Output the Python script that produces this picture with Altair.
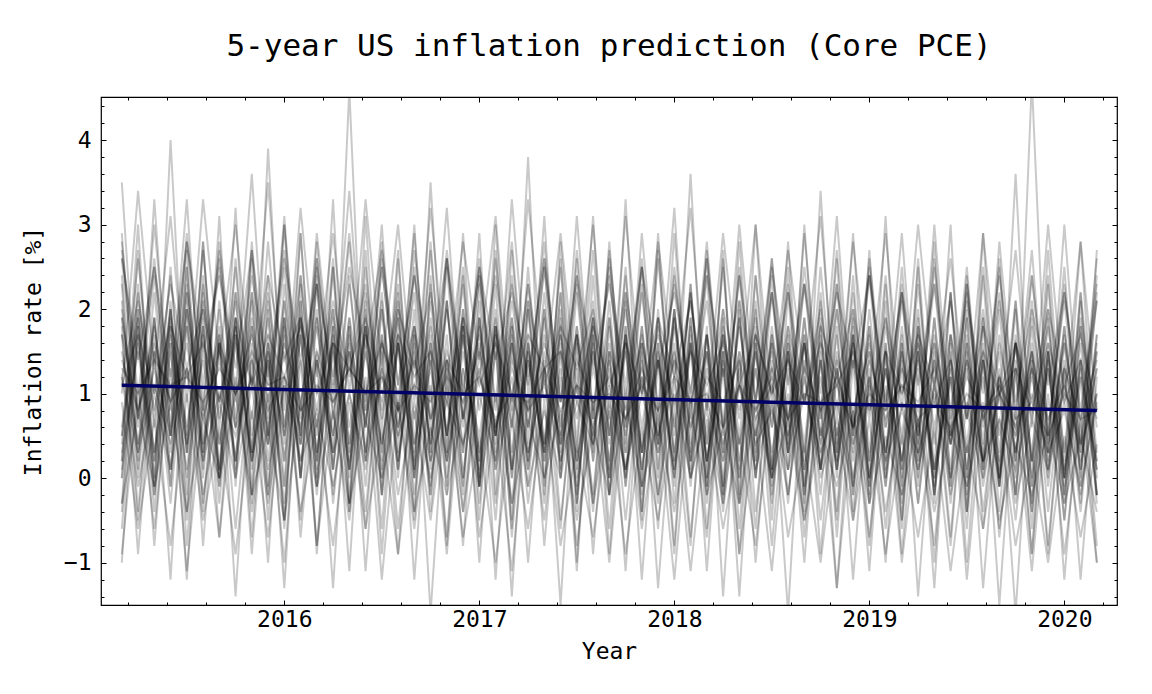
import altair as alt
import pandas as pd

TITLE = "5-year US inflation prediction (Core PCE)"
X_TITLE = "Year"
Y_TITLE = "Inflation rate [%]"

# monthly forecast dates, March 2015 .. March 2020
MONTHS = pd.date_range("2015-03-01", periods=61, freq="MS")

# mean forecast (straight line from first to last month)
MEAN_VALUES = [1.1, 0.8]

YEAR_TICKS = [2016, 2017, 2018, 2019, 2020]
RATE_TICKS = [-1, 0, 1, 2, 3, 4]

# simulated inflation paths, one list per path (61 monthly values)
PATHS = [
    [1.9, 0.3, 1.7, 0.1, 2.0, 0.4, 1.6, 0.2, 1.8, 0.5, 1.9, 0.0, 1.5, 0.3, 1.7, 0.6,
     2.1, 0.2, 1.6, -0.1, 1.4, 0.3, 1.8, 0.5, 1.9, 0.1, 1.5, 0.4, 1.7, 0.2, 1.3,
     0.0, 1.6, 0.4, 1.8, 0.3, 1.5, -0.2, 1.4, 0.2, 1.7, 0.5, 1.6, 0.1, 1.3, 0.3,
     1.8, 0.0, 1.5, 0.2, 1.4, 0.4, 1.6, -0.1, 1.2, 0.3, 1.5, 0.1, 1.7, 0.2, 1.3],
    [0.6, 2.0, 0.8, 1.9, 0.5, 2.1, 0.9, 1.8, 0.7, 2.2, 0.6, 1.9, 0.8, 2.0, 0.4, 1.7,
     0.9, 2.1, 0.7, 1.8, 0.5, 2.0, 0.8, 1.9, 0.6, 2.3, 0.9, 1.7, 0.7, 1.9, 0.5,
     2.0, 0.6, 1.8, 0.8, 2.1, 0.4, 1.7, 0.7, 1.9, 0.6, 1.8, 0.9, 2.0, 0.5, 1.6,
     0.7, 1.9, 0.4, 1.8, 0.6, 1.7, 0.8, 2.0, 0.5, 1.6, 0.7, 1.8, 0.3, 1.9, 0.6],
    [2.3, -0.4, 1.9, -0.1, 2.5, -0.3, 1.6, 0.2, 2.2, -0.5, 1.8, 0.0, 2.4, -0.2, 1.5, -0.6,
     1.7, 0.1, 2.0, -0.4, 1.4, -0.1, 2.1, -0.3, 1.6, 0.2, 1.9, -0.5, 1.3, -0.2, 1.8,
     -0.1, 1.5, -0.6, 1.9, 0.0, 1.7, -0.3, 2.0, -0.4, 1.4, 0.1, 1.6, -0.2, 1.8, -0.5,
     1.2, -0.1, 1.7, -0.3, 1.5, 0.0, 1.9, -0.6, 1.3, -0.2, 1.6, -0.4, 1.4, 0.1, 1.7],
    [1.2, 2.1, 1.0, 2.3, 1.3, 2.0, 0.9, 2.2, 1.1, 2.4, 1.4, 1.9, 1.0, 2.1, 1.2, 2.3,
     0.8, 2.0, 1.3, 2.2, 1.0, 1.9, 1.2, 2.4, 0.9, 2.1, 1.1, 1.8, 1.3, 2.0, 0.9,
     2.2, 1.0, 1.9, 1.2, 2.1, 0.8, 2.0, 1.1, 1.7, 1.0, 2.2, 0.9, 1.8, 1.2, 2.0,
     0.8, 1.9, 1.0, 1.7, 1.1, 2.1, 0.7, 1.8, 1.0, 1.6, 0.9, 2.0, 1.1, 1.7, 0.8],
    [3.5, 0.6, 3.0, 0.9, 3.3, 0.4, 2.8, 1.0, 3.6, 0.7, 3.1, 0.5, 2.9, 1.1, 3.4, 0.8,
     3.0, 0.3, 2.7, 0.9, 3.2, 0.6, 2.6, 0.4, 3.3, 1.0, 2.8, 0.5, 3.1, 0.7, 2.5,
     0.4, 2.9, 0.8, 3.2, 0.2, 2.7, 0.6, 3.0, 0.9, 2.6, 0.3, 2.9, 0.7, 3.1, 0.5,
     2.6, 0.8, 2.9, 0.4, 3.0, 0.6, 2.5, 0.2, 2.8, 0.7, 2.7, 0.3, 3.0, 0.5, 2.6],
    [-0.9, 1.1, -0.6, 1.3, -1.1, 0.9, -0.7, 1.2, -0.4, 1.0, -1.0, 1.4, -0.8, 0.8, -0.5, 1.2,
     -1.2, 0.9, -0.6, 1.1, -0.9, 1.3, -0.7, 0.7, -1.1, 1.0, -0.5, 1.2, -0.8, 0.9, -1.0,
     1.1, -0.6, 0.8, -1.2, 1.0, -0.7, 1.3, -0.9, 0.6, -1.1, 1.0, -0.5, 0.9, -1.3, 0.8,
     -0.7, 1.1, -1.0, 0.7, -0.8, 1.2, -1.2, 0.9, -0.6, 0.8, -1.1, 1.0, -0.9, 0.7, -1.0],
    [1.4, 0.8, 1.5, 0.9, 1.3, 0.7, 1.6, 1.0, 1.4, 0.8, 1.2, 0.6, 1.5, 0.9, 1.3, 1.0,
     1.6, 0.8, 1.4, 0.7, 1.2, 0.9, 1.5, 0.6, 1.3, 0.8, 1.1, 0.5, 1.4, 0.9, 1.2,
     0.7, 1.3, 0.8, 1.5, 0.6, 1.2, 0.9, 1.4, 0.7, 1.1, 0.5, 1.3, 0.8, 1.2, 0.6,
     1.4, 0.7, 1.1, 0.9, 1.3, 0.5, 1.2, 0.8, 1.0, 0.6, 1.3, 0.7, 1.1, 0.4, 1.0],
    [0.1, 1.6, 0.3, 1.8, 0.0, 1.5, 0.4, 1.7, 0.2, 1.4, -0.1, 1.9, 0.3, 1.6, 0.1, 1.5,
     0.4, 1.7, 0.0, 1.6, 0.2, 1.3, 0.5, 1.8, 0.1, 1.4, 0.3, 1.6, -0.2, 1.5, 0.2,
     1.7, 0.3, 1.4, 0.0, 1.6, 0.2, 1.5, 0.4, 1.3, -0.1, 1.6, 0.1, 1.4, 0.3, 1.7,
     0.0, 1.3, 0.2, 1.5, -0.1, 1.4, 0.3, 1.2, 0.0, 1.6, 0.2, 1.3, -0.2, 1.4, 0.1],
    [2.6, 0.7, 2.4, 0.5, 2.3, 0.8, 2.7, 0.6, 2.2, 0.9, 2.5, 0.4, 2.8, 0.7, 2.3, 0.6,
     2.5, 0.8, 2.2, 0.3, 2.6, 0.7, 2.4, 0.5, 2.1, 0.8, 2.5, 0.6, 2.3, 0.4, 2.7,
     0.6, 2.2, 0.5, 2.4, 0.8, 2.1, 0.3, 2.5, 0.6, 2.2, 0.4, 2.3, 0.7, 2.0, 0.5,
     2.4, 0.3, 2.1, 0.6, 2.3, 0.4, 2.0, 0.7, 2.2, 0.2, 1.9, 0.5, 2.3, 0.4, 2.1],
    [1.2, -0.1, 1.0, 0.1, 1.3, -0.2, 0.9, 0.0, 1.1, -0.3, 1.2, 0.2, 0.8, -0.1, 1.0, 0.1,
     1.3, -0.2, 0.9, 0.0, 1.1, -0.4, 1.0, 0.2, 1.2, -0.1, 0.8, 0.0, 1.1, -0.3, 0.9,
     0.1, 1.2, -0.2, 1.0, 0.0, 0.8, -0.3, 1.1, 0.1, 0.9, -0.2, 1.2, 0.0, 0.7, -0.1,
     1.0, -0.4, 0.9, 0.1, 1.1, -0.2, 0.8, 0.0, 1.0, -0.3, 0.7, 0.1, 0.9, -0.2, 1.0],
    [0.2, 3.0, -0.1, 4.0, 0.3, 2.8, 0.0, 3.2, -0.2, 3.9, 0.4, 2.9, 0.1, 3.3, -0.3, 3.1,
     0.2, 2.7, 0.0, 3.5, 0.3, 2.9, -0.1, 3.0, 0.1, 3.8, -0.2, 2.8, 0.4, 3.1, 0.0,
     3.3, -0.1, 2.9, 0.2, 3.6, 0.0, 2.7, -0.3, 3.0, 0.1, 2.8, -0.1, 3.4, 0.2, 2.9,
     0.0, 3.1, -0.2, 2.6, 0.1, 3.0, -0.4, 2.9, 0.0, 3.6, -0.1, 2.7, 0.2, 2.8, 0.0],
    [1.7, 0.8, 1.6, 0.9, 1.8, 0.7, 1.5, 1.0, 1.7, 0.6, 1.6, 0.9, 1.9, 0.8, 1.5, 0.7,
     1.6, 1.0, 1.8, 0.7, 1.5, 0.9, 1.7, 0.6, 1.4, 0.8, 1.6, 0.9, 1.7, 0.5, 1.5,
     0.8, 1.6, 0.7, 1.4, 0.9, 1.7, 0.6, 1.5, 0.8, 1.3, 0.7, 1.6, 0.5, 1.4, 0.8,
     1.5, 0.6, 1.3, 0.8, 1.6, 0.5, 1.4, 0.7, 1.2, 0.6, 1.5, 0.4, 1.3, 0.7, 1.4],
    [-0.4, 2.0, -0.2, 1.8, -0.5, 2.2, 0.0, 1.9, -0.3, 1.7, -0.6, 2.1, -0.1, 1.8, -0.4, 2.0,
     -0.2, 1.6, -0.5, 2.3, 0.0, 1.9, -0.3, 1.7, -0.6, 2.0, -0.1, 1.8, -0.4, 2.1, -0.2,
     1.7, -0.5, 1.9, -0.3, 1.6, -0.1, 2.0, -0.6, 1.8, -0.2, 1.5, -0.4, 1.9, -0.7, 1.7,
     -0.3, 1.6, -0.5, 1.8, -0.2, 1.5, -0.6, 1.9, -0.4, 1.7, -0.1, 1.4, -0.5, 1.8, -0.3],
    [2.6, 1.4, 2.5, 1.2, 2.8, 1.5, 2.4, 1.3, 2.7, 1.1, 2.6, 1.4, 2.3, 1.2, 2.5, 1.5,
     2.7, 1.1, 2.4, 1.3, 2.6, 1.0, 2.5, 1.4, 2.2, 1.2, 2.6, 0.9, 2.4, 1.3, 2.3,
     1.1, 2.5, 1.3, 2.2, 1.0, 2.4, 1.2, 2.1, 0.9, 2.5, 1.1, 2.3, 1.0, 2.2, 1.3,
     2.4, 0.9, 2.2, 1.1, 2.3, 0.8, 2.1, 1.0, 2.4, 0.9, 2.0, 1.1, 2.2, 0.8, 2.1],
    [-0.3, 0.8, -0.1, 0.9, -0.4, 0.7, 0.0, 1.0, -0.2, 0.6, -0.5, 0.9, -0.1, 0.8, -0.3, 0.7,
     0.0, 0.9, -0.4, 0.6, -0.2, 0.8, -0.1, 1.0, -0.3, 0.7, 0.0, 0.8, -0.5, 0.6, -0.2,
     0.9, -0.1, 0.7, -0.4, 0.8, -0.2, 0.6, -0.3, 0.9, 0.0, 0.7, -0.5, 0.6, -0.1, 0.8,
     -0.3, 0.5, -0.2, 0.7, -0.4, 0.6, -0.1, 0.8, -0.5, 0.4, -0.2, 0.6, -0.3, 0.5, -0.4],
    [1.3, 1.0, 1.4, 1.1, 1.2, 0.9, 1.3, 1.0, 1.5, 1.1, 1.2, 0.8, 1.1, 0.9, 1.3, 1.0,
     1.2, 0.8, 1.1, 0.9, 1.4, 1.0, 1.2, 0.7, 1.0, 0.9, 1.3, 0.8, 1.1, 0.9, 1.0,
     0.7, 1.1, 0.8, 1.2, 0.9, 1.0, 0.6, 1.1, 0.8, 1.2, 0.7, 1.0, 0.9, 1.1, 0.6,
     1.0, 0.8, 1.1, 0.7, 0.9, 0.6, 1.0, 0.8, 1.1, 0.7, 0.9, 0.5, 1.0, 0.7, 0.8],
    [1.8, -0.9, 1.5, -1.2, 2.0, -0.8, 1.7, -1.4, 1.6, -1.0, 1.9, -0.7, 1.4, -1.3, 1.8, -1.1,
     1.5, -0.9, 1.7, -1.6, 1.3, -0.8, 1.9, -1.2, 1.6, -1.0, 1.4, -1.5, 1.7, -0.9, 1.5,
     -1.1, 1.6, -1.3, 1.2, -0.8, 1.8, -1.4, 1.5, -1.0, 1.3, -1.6, 1.7, -0.9, 1.4, -1.2,
     1.3, -1.0, 1.6, -1.4, 1.2, -0.8, 1.5, -1.3, 1.1, -1.6, 1.4, -0.9, 1.3, -1.2, 1.2],
    [0.4, 2.2, 0.6, 2.0, 0.3, 2.3, 0.7, 2.1, 0.5, 1.9, 0.2, 2.4, 0.6, 2.0, 0.4, 2.2,
     0.7, 1.9, 0.3, 2.1, 0.5, 2.3, 0.2, 1.8, 0.6, 2.0, 0.4, 2.2, 0.1, 1.9, 0.5,
     2.1, 0.3, 1.9, 0.6, 2.2, 0.2, 1.8, 0.5, 2.0, 0.1, 1.7, 0.4, 2.1, 0.3, 1.9,
     0.2, 1.8, 0.5, 2.0, 0.0, 1.7, 0.4, 1.9, 0.1, 1.6, 0.3, 2.0, -0.1, 1.8, 0.2],
    [1.2, 0.3, 1.1, 0.4, 1.3, 0.2, 1.0, 0.5, 1.2, 0.1, 1.1, 0.4, 1.4, 0.3, 1.0, 0.2,
     1.2, 0.5, 1.1, 0.2, 0.9, 0.4, 1.3, 0.1, 1.0, 0.3, 1.2, 0.2, 0.9, 0.4, 1.1,
     0.1, 1.0, 0.3, 1.2, 0.0, 0.9, 0.2, 1.1, 0.4, 0.8, 0.1, 1.0, 0.3, 0.9, 0.0,
     1.1, 0.2, 0.8, 0.3, 1.0, 0.0, 0.9, 0.2, 0.7, 0.1, 1.0, 0.3, 0.8, -0.1, 0.9],
    [1.0, 3.4, 1.3, 3.1, 0.9, 3.3, 1.4, 3.0, 1.1, 3.5, 0.8, 3.2, 1.2, 2.9, 1.0, 3.3,
     1.3, 3.0, 0.9, 3.2, 1.1, 2.8, 1.4, 3.1, 0.8, 3.3, 1.2, 2.9, 1.0, 3.0, 0.7,
     3.1, 1.0, 2.8, 1.2, 3.2, 0.8, 2.9, 1.1, 3.0, 0.9, 2.7, 1.2, 3.1, 0.7, 2.8,
     1.0, 2.9, 0.8, 3.0, 1.1, 2.6, 0.7, 2.9, 1.0, 2.7, 0.6, 3.0, 0.9, 2.8, 0.8],
    [1.5, 0.4, 1.3, 0.5, 1.6, 0.3, 1.4, 0.6, 1.2, 0.4, 1.5, 0.2, 1.4, 0.5, 1.6, 0.3,
     1.3, 0.6, 1.5, 0.2, 1.4, 0.4, 1.2, 0.5, 1.6, 0.3, 1.3, 0.4, 1.1, 0.6, 1.4,
     0.3, 1.2, 0.5, 1.4, 0.2, 1.3, 0.4, 1.1, 0.5, 1.5, 0.3, 1.2, 0.1, 1.3, 0.4,
     1.2, 0.3, 1.4, 0.1, 1.1, 0.4, 1.3, 0.2, 1.0, 0.5, 1.2, 0.2, 1.1, 0.3, 1.3],
    [1.1, 1.7, 1.0, 1.8, 1.2, 1.6, 0.9, 1.9, 1.1, 1.7, 1.2, 1.8, 1.0, 1.6, 1.3, 1.9,
     1.0, 1.7, 1.2, 1.5, 0.9, 1.8, 1.1, 1.6, 1.0, 1.7, 1.3, 1.5, 0.9, 1.8, 1.1,
     1.6, 1.0, 1.7, 0.9, 1.5, 1.1, 1.6, 0.8, 1.7, 1.0, 1.4, 0.9, 1.6, 1.1, 1.5,
     0.8, 1.5, 1.0, 1.6, 0.9, 1.4, 0.7, 1.5, 1.0, 1.3, 0.8, 1.6, 0.9, 1.4, 0.7],
    [-0.6, 1.8, -0.4, 2.0, -0.8, 1.7, -0.3, 1.9, -0.7, 1.6, -0.5, 2.1, -0.9, 1.8, -0.4, 1.7,
     -0.6, 1.9, -0.2, 1.6, -0.8, 1.8, -0.5, 2.0, -0.7, 1.5, -0.3, 1.9, -1.0, 1.7, -0.6,
     1.8, -0.4, 1.6, -0.8, 1.9, -0.6, 1.5, -0.9, 1.7, -0.3, 1.6, -0.7, 1.4, -0.5, 1.8,
     -0.8, 1.5, -0.6, 1.7, -1.0, 1.4, -0.4, 1.6, -0.7, 1.3, -0.9, 1.5, -0.5, 1.4, -0.8],
    [2.8, 0.8, 2.6, 0.6, 2.9, 0.9, 2.5, 0.7, 2.7, 0.5, 3.0, 0.8, 2.6, 0.9, 2.8, 0.6,
     2.5, 0.8, 2.9, 0.5, 2.6, 0.7, 2.4, 0.9, 2.8, 0.6, 2.5, 0.4, 2.7, 0.8, 2.4,
     0.6, 2.6, 0.4, 2.5, 0.7, 2.8, 0.5, 2.4, 0.3, 2.6, 0.6, 2.3, 0.5, 2.7, 0.4,
     2.5, 0.6, 2.3, 0.3, 2.6, 0.5, 2.2, 0.4, 2.5, 0.2, 2.4, 0.6, 2.1, 0.3, 2.4],
    [0.2, 1.9, 0.0, 2.0, 0.3, 1.8, -0.1, 1.9, 0.1, 2.1, 0.2, 1.7, -0.2, 1.9, 0.1, 1.8,
     0.3, 2.0, 0.0, 1.7, 0.2, 1.9, -0.1, 1.8, 0.1, 1.6, 0.3, 2.0, 0.0, 1.7, -0.2,
     1.8, 0.1, 1.6, 0.0, 1.9, -0.2, 1.7, 0.2, 1.5, 0.0, 1.8, -0.1, 1.6, 0.1, 1.7,
     -0.3, 1.6, 0.0, 1.5, -0.2, 1.7, 0.1, 1.4, -0.1, 1.6, -0.3, 1.5, 0.0, 1.6, -0.2],
    [0.9, -0.6, 0.7, -0.8, 1.0, -0.5, 0.6, -0.9, 0.8, -0.7, 1.1, -0.4, 0.7, -0.8, 0.9, -0.6,
     0.6, -0.9, 0.8, -0.5, 1.0, -0.7, 0.5, -1.0, 0.7, -0.6, 0.9, -0.8, 0.4, -0.7, 0.8,
     -0.9, 0.6, -0.5, 0.8, -1.1, 0.7, -0.6, 0.5, -0.8, 0.9, -0.7, 0.4, -1.0, 0.6, -0.5,
     0.7, -0.9, 0.5, -0.7, 0.6, -1.1, 0.4, -0.6, 0.7, -0.8, 0.3, -1.0, 0.5, -0.7, 0.4],
    [1.9, 0.7, 1.8, 0.5, 2.0, 0.8, 1.7, 0.6, 1.9, 0.4, 2.1, 0.7, 1.8, 0.5, 1.9, 0.8,
     1.7, 0.6, 1.8, 0.4, 2.0, 0.7, 1.6, 0.5, 1.9, 0.6, 1.7, 0.3, 1.8, 0.6, 1.6,
     0.5, 1.7, 0.4, 1.9, 0.6, 1.5, 0.3, 1.8, 0.5, 1.6, 0.7, 1.7, 0.4, 1.5, 0.6,
     1.6, 0.3, 1.5, 0.5, 1.7, 0.4, 1.4, 0.2, 1.6, 0.5, 1.3, 0.3, 1.6, 0.4, 1.5],
    [0.0, 1.7, -0.2, 1.5, 0.1, 1.8, -0.1, 1.6, 0.2, 1.4, -0.3, 1.7, 0.0, 1.5, 0.1, 1.8,
     -0.2, 1.6, 0.1, 1.4, -0.1, 1.7, 0.0, 1.5, -0.3, 1.6, 0.2, 1.3, -0.1, 1.5, 0.0,
     1.6, -0.2, 1.4, 0.1, 1.5, -0.1, 1.7, -0.3, 1.3, 0.0, 1.5, -0.2, 1.4, 0.1, 1.6,
     -0.1, 1.3, -0.3, 1.5, 0.0, 1.2, -0.2, 1.4, -0.1, 1.6, -0.4, 1.3, 0.0, 1.4, -0.2],
    [2.9, 0.2, 3.3, 0.5, 2.7, 0.1, 3.1, -0.1, 2.8, 0.4, 3.0, 0.0, 2.6, 0.3, 4.6, 0.2,
     2.8, 0.5, 3.0, 0.1, 2.5, 0.3, 2.9, -0.2, 2.7, 0.4, 3.1, 0.0, 2.6, 0.2, 2.8,
     0.3, 2.5, 0.0, 2.9, 0.4, 2.6, -0.1, 2.8, 0.2, 2.4, 0.1, 3.0, 0.3, 2.6, -0.2,
     2.7, 0.1, 2.5, 0.3, 2.8, -0.1, 2.4, 0.2, 2.6, 0.0, 4.7, 0.3, 2.5, -0.1, 2.7],
    [0.5, 1.9, 0.3, 1.7, 0.6, 2.0, 0.4, 1.8, 0.2, 1.6, 0.5, 1.9, 0.3, 1.7, 0.6, 1.8,
     0.4, 1.6, 0.2, 1.9, 0.5, 1.7, 0.1, 1.8, 0.3, 1.5, 0.4, 1.7, 0.2, 1.6, 0.0,
     1.7, 0.3, 1.5, 0.1, 1.8, 0.2, 1.4, 0.4, 1.6, 0.0, 1.5, 0.3, 1.7, 0.1, 1.4,
     0.2, 1.5, -0.1, 1.6, 0.1, 1.3, 0.3, 1.5, 0.0, 1.4, 0.2, 1.6, -0.2, 1.3, 0.1],
    [2.4, 0.1, 2.2, 0.3, 2.5, 0.0, 2.1, 0.2, 2.6, -0.1, 2.3, 0.4, 2.0, 0.1, 2.4, 0.2,
     2.2, 0.0, 2.5, 0.3, 2.1, -0.2, 2.3, 0.1, 2.4, 0.2, 2.0, 0.0, 2.2, 0.3, 2.1,
     -0.1, 2.3, 0.1, 2.0, 0.2, 2.4, -0.2, 2.1, 0.0, 2.2, 0.3, 1.9, 0.1, 2.3, -0.1,
     2.0, 0.2, 2.2, -0.1, 1.9, 0.1, 2.3, 0.0, 2.0, -0.2, 2.1, 0.1, 1.8, 0.0, 2.2],
    [-0.3, 2.3, -0.1, 2.1, -0.4, 2.4, 0.0, 2.2, -0.2, 2.0, -0.5, 2.3, -0.1, 2.5, -0.3, 2.1,
     0.0, 2.2, -0.4, 2.4, -0.2, 2.0, -0.1, 2.3, -0.5, 2.1, 0.0, 2.2, -0.3, 1.9, -0.2,
     2.2, -0.4, 2.0, -0.1, 2.3, -0.3, 1.9, 0.0, 2.1, -0.5, 2.2, -0.2, 1.8, -0.4, 2.0,
     -0.1, 2.1, -0.5, 1.9, -0.2, 2.2, -0.4, 1.8, -0.1, 2.0, -0.6, 1.9, -0.3, 2.1, -0.2],
    [0.5, 2.6, 0.7, 2.4, 0.4, 2.7, 0.6, 2.5, 0.3, 2.8, 0.6, 2.4, 0.5, 2.6, 0.2, 2.5,
     0.6, 2.3, 0.4, 2.7, 0.5, 2.5, 0.2, 2.6, 0.7, 2.3, 0.4, 2.5, 0.3, 2.7, 0.5,
     2.4, 0.3, 2.6, 0.5, 2.2, 0.4, 2.5, 0.1, 2.4, 0.6, 2.3, 0.2, 2.5, 0.4, 2.2,
     0.3, 2.4, 0.1, 2.3, 0.4, 2.2, 0.0, 2.5, 0.3, 2.1, 0.2, 2.4, 0.0, 2.2, 0.3],
    [1.7, -0.5, 1.5, -0.3, 1.8, -0.4, 1.6, -0.6, 1.4, -0.2, 1.7, -0.5, 1.9, -0.3, 1.5, -0.4,
     1.6, -0.6, 1.4, -0.2, 1.7, -0.4, 1.5, -0.5, 1.8, -0.3, 1.3, -0.6, 1.6, -0.4, 1.5,
     -0.5, 1.4, -0.3, 1.6, -0.7, 1.5, -0.4, 1.3, -0.6, 1.7, -0.2, 1.4, -0.5, 1.2, -0.4,
     1.5, -0.6, 1.3, -0.3, 1.4, -0.7, 1.6, -0.4, 1.2, -0.5, 1.4, -0.8, 1.3, -0.4, 1.5],
    [2.0, 0.4, 1.9, 0.1, 2.2, 0.3, 1.8, 0.0, 2.1, 0.2, 1.9, 0.5, 2.3, 0.1, 1.8, 0.3,
     2.0, 0.2, 1.7, 0.4, 2.1, 0.0, 1.9, 0.3, 1.8, 0.1, 2.2, 0.2, 1.7, 0.4, 1.9,
     0.1, 1.8, 0.3, 2.0, -0.1, 1.7, 0.2, 1.9, 0.0, 1.8, 0.3, 1.6, 0.1, 2.0, 0.2,
     1.7, 0.0, 1.8, 0.2, 1.6, -0.1, 1.9, 0.1, 1.7, 0.3, 1.5, 0.0, 1.8, 0.1, 1.6],
    [0.0, 2.7, 0.2, 2.5, -0.2, 2.8, 0.1, 2.6, 0.3, 2.4, -0.1, 2.9, 0.2, 2.5, 0.0, 2.7,
     -0.2, 2.6, 0.1, 2.8, 0.3, 2.4, -0.1, 2.7, 0.0, 2.5, 0.2, 2.6, -0.3, 2.4, 0.1,
     2.5, -0.1, 2.7, 0.2, 2.3, 0.0, 2.6, -0.2, 2.4, 0.1, 2.5, -0.3, 2.2, 0.0, 2.4,
     -0.2, 2.3, 0.1, 2.5, -0.3, 2.2, 0.0, 2.4, -0.1, 2.1, -0.4, 2.3, 0.0, 2.2, -0.2],
    [0.3, 1.5, 0.2, 1.6, 0.4, 1.4, 0.1, 1.7, 0.3, 1.5, 0.5, 1.4, 0.2, 1.6, 0.3, 1.5,
     0.1, 1.6, 0.4, 1.3, 0.2, 1.5, 0.3, 1.7, 0.0, 1.4, 0.3, 1.5, 0.2, 1.3, 0.4,
     1.5, 0.1, 1.4, 0.3, 1.6, 0.2, 1.3, 0.0, 1.5, 0.3, 1.4, 0.1, 1.2, 0.2, 1.5,
     0.0, 1.3, 0.2, 1.4, 0.1, 1.2, -0.1, 1.4, 0.2, 1.3, 0.0, 1.5, 0.1, 1.2, 0.2],
    [2.7, 1.0, 2.5, 0.8, 2.8, 1.1, 2.6, 0.9, 2.4, 1.2, 2.7, 0.8, 2.5, 1.0, 2.9, 0.9,
     2.6, 1.1, 2.4, 0.7, 2.7, 1.0, 2.5, 0.8, 2.3, 1.1, 2.6, 0.9, 2.4, 0.7, 2.6,
     0.9, 2.5, 0.8, 2.3, 1.0, 2.6, 0.6, 2.4, 0.9, 2.2, 0.7, 2.5, 0.8, 2.3, 0.6,
     2.4, 0.8, 2.2, 0.5, 2.5, 0.7, 2.3, 0.6, 2.1, 0.8, 2.4, 0.5, 2.2, 0.7, 2.3],
    [-1.0, 1.8, -0.8, 1.6, -1.2, 1.9, -0.7, 1.7, -0.9, 1.5, -1.3, 1.8, -0.8, 1.6, -1.1, 1.9,
     -0.9, 1.7, -1.2, 1.5, -0.7, 1.8, -1.0, 1.6, -1.4, 1.7, -0.8, 1.5, -1.1, 1.8, -0.9,
     1.6, -1.2, 1.4, -0.9, 1.7, -1.1, 1.5, -1.4, 1.6, -0.8, 1.3, -1.0, 1.5, -1.3, 1.4,
     -1.1, 1.5, -0.9, 1.3, -1.3, 1.6, -1.0, 1.4, -1.5, 1.3, -0.9, 1.5, -1.2, 1.2, -1.0],
    [2.1, 0.0, 1.9, -0.1, 2.2, 0.2, 2.0, 0.1, 1.8, -0.2, 2.1, 0.0, 2.3, 0.1, 1.9, -0.1,
     2.0, 0.1, 1.8, -0.2, 2.1, 0.0, 1.9, 0.2, 1.7, -0.1, 2.0, 0.1, 1.8, -0.3, 1.9,
     0.0, 1.8, -0.2, 2.0, 0.1, 1.7, -0.1, 1.9, 0.0, 1.6, -0.3, 1.9, 0.1, 1.7, -0.2,
     1.8, -0.1, 1.6, 0.0, 1.9, -0.3, 1.7, 0.1, 1.5, -0.2, 1.8, -0.1, 1.6, -0.3, 1.7],
]

assert all(len(p) == len(MONTHS) for p in PATHS), [len(p) for p in PATHS]

years = MONTHS.year + (MONTHS.month - 1) / 12

rows = []
for i, path in enumerate(PATHS):
    for t, v in zip(years, path):
        rows.append({"path": i, "t": t, "v": v})
paths_df = pd.DataFrame(rows)

mean_df = pd.DataFrame({"t": [years[0], years[-1]], "v": MEAN_VALUES})

x_minor = [k / 5 for k in range(10076, 10102) if k % 5]
y_minor = [k / 5 for k in range(-7, 23) if k % 5]

x_scale = alt.Scale(domain=[2015.06, 2020.27], nice=False, zero=False)
y_scale = alt.Scale(domain=[-1.5, 4.51], nice=False, zero=False)

FONT = "DejaVu Sans Mono"


def ticks_axis(orient, values, size, labels=False, title=None, **kw):
    # ticks drawn inside the frame: move the axis inwards by its tick length
    return alt.Axis(
        orient=orient, values=values, tickSize=size, offset=-size,
        domain=False, grid=False, labels=labels, title=title,
        tickColor="black", tickWidth=1, **kw,
    )


paths = (
    alt.Chart(paths_df)
    .mark_line(color="black", opacity=0.21, strokeWidth=2, clip=True)
    .encode(
        x=alt.X("t:Q", scale=x_scale,
                axis=ticks_axis("bottom", YEAR_TICKS, 5, labels=True, title=X_TITLE,
                                format="d", labelPadding=3, titlePadding=9)),
        y=alt.Y("v:Q", scale=y_scale,
                axis=ticks_axis("left", RATE_TICKS, 5, labels=True, title=Y_TITLE,
                                format="d", labelPadding=10, titlePadding=18)),
        detail="path:N",
    )
)

mean_line = (
    alt.Chart(mean_df)
    .mark_line(color="#000066", strokeWidth=3.5)
    .encode(
        x=alt.X("t:Q", scale=x_scale, axis=ticks_axis("bottom", x_minor, 3)),
        y=alt.Y("v:Q", scale=y_scale, axis=ticks_axis("left", y_minor, 3)),
    )
)

top_right_major = (
    alt.Chart(mean_df)
    .mark_line(opacity=0)
    .encode(
        x=alt.X("t:Q", scale=x_scale, axis=ticks_axis("top", YEAR_TICKS, 5)),
        y=alt.Y("v:Q", scale=y_scale, axis=ticks_axis("right", RATE_TICKS, 5)),
    )
)

top_right_minor = (
    alt.Chart(mean_df)
    .mark_line(opacity=0)
    .encode(
        x=alt.X("t:Q", scale=x_scale, axis=ticks_axis("top", x_minor, 3)),
        y=alt.Y("v:Q", scale=y_scale, axis=ticks_axis("right", y_minor, 3)),
    )
)

chart = (
    alt.layer(paths, mean_line, top_right_major, top_right_minor)
    .resolve_axis(x="independent", y="independent")
    .properties(
        width=1016,
        height=508,
        padding={"left": 14, "top": 22, "right": 10, "bottom": 5},
        title=alt.TitleParams(TITLE, font=FONT, fontSize=31, fontWeight="normal",
                              color="black", anchor="middle", offset=34),
    )
    .configure_view(stroke="black", strokeWidth=1.2)
    .configure_axis(
        labelFont=FONT, labelFontSize=23, labelColor="black",
        titleFont=FONT, titleFontSize=23, titleFontWeight="normal", titleColor="black",
    )
)

chart.save("out.html", embed_options={"renderer": "svg", "actions": False})
